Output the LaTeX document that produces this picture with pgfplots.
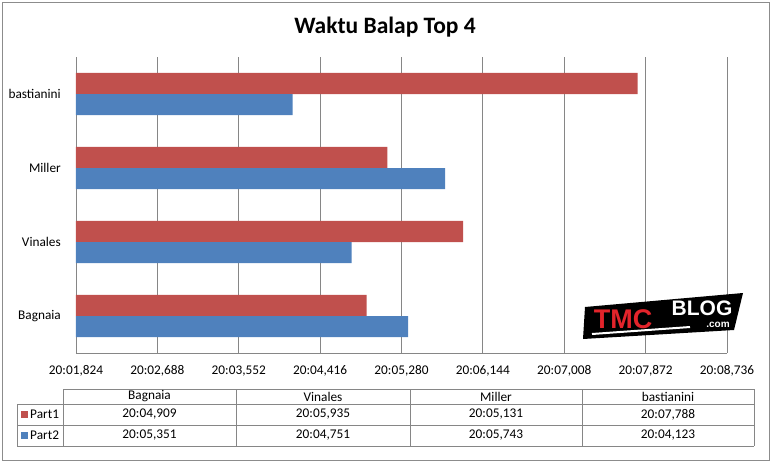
\documentclass[border=0pt]{standalone}
\usepackage{pgfplots}
\pgfplotsset{compat=1.18}
\usepackage{fontspec}
\setmainfont{Carlito}
\newfontfamily\logofont{Liberation Sans}
\definecolor{redbar}{HTML}{C0504D}
\definecolor{bluebar}{HTML}{4F81BD}
\definecolor{gridgray}{HTML}{868686}
\definecolor{framegray}{HTML}{8C8C8C}
\definecolor{logored}{HTML}{E3242B}
\begin{document}
\begin{tikzpicture}[x=1pt,y=1pt]
\useasboundingbox (0,0) rectangle (771,-463);
\draw[framegray,line width=1pt] (2,-2) rectangle (769,-460);
\node[font=\fontsize{23.5}{26}\selectfont\bfseries] at (385,-27) {Waktu Balap Top 4};
\begin{axis}[
  at={(76pt,-353pt)}, anchor=south west,
  width=651pt, height=296pt, scale only axis,
  xbar, bar width=0.284,
  xmin=1.824, xmax=8.736,
  ymin=-0.5, ymax=3.5,
  xtick={1.824,2.688,3.552,4.416,5.280,6.144,7.008,7.872,8.736},
  xticklabels={{20:01,824},{20:02,688},{20:03,552},{20:04,416},{20:05,280},{20:06,144},{20:07,008},{20:07,872},{20:08,736}},
  ytick={0,1,2,3},
  yticklabels={Bagnaia,Vinales,Miller,bastianini},
  axis x line*=bottom, axis y line*=left,
  axis line style={gridgray, line width=0.8pt, -},
  xmajorgrids, grid style={gridgray, line width=0.8pt},
  major tick length=0pt,
  tick label style={font=\fontsize{13.3}{16}\selectfont, inner sep=0pt},
  xticklabel style={anchor=center, yshift=-18pt},
  yticklabel style={anchor=east, xshift=-15pt},
  /pgf/number format/assume math mode=true,
  clip=true,
]
\addplot[draw=none, fill=redbar, bar shift=0.142] coordinates {(4.909,0) (5.935,1) (5.131,2) (7.788,3)};
\addplot[draw=none, fill=bluebar, bar shift=-0.142] coordinates {(5.351,0) (4.751,1) (5.743,2) (4.123,3)};
\end{axis}
% logo
\fill[black] (585,-307) -- (743,-293) -- (734,-330) -- (583,-339) -- cycle;
\draw[white, line width=2pt] (592,-334) -- (690,-327);
\node[inner sep=0pt, text=logored] at (623,-319) {\logofont\fontsize{27}{27}\selectfont\bfseries TMC};
\node[inner sep=0pt, text=white] at (702,-308) {\logofont\fontsize{21}{21}\selectfont\bfseries BLOG};
\node[inner sep=0pt, text=white] at (718,-325) {\logofont\fontsize{10}{10}\selectfont\bfseries .com};
% data table
\begin{scope}[draw=gridgray, line width=0.8pt]
\draw (63,-389) -- (754,-389);
\draw (17,-404) -- (754,-404);
\draw (17,-425) -- (754,-425);
\draw (17,-446) -- (754,-446);
\draw (17,-404) -- (17,-446);
\foreach \xx in {63,236,410,582,754} { \draw (\xx,-389) -- (\xx,-446); }
\end{scope}
\fill[redbar] (21,-411) rectangle (28,-418);
\fill[bluebar] (21,-432) rectangle (28,-439);
\begin{scope}[every node/.style={font=\fontsize{13.3}{16}\selectfont, inner sep=0pt}]
\node[anchor=west] at (30,-414.5) {Part1};
\node[anchor=west] at (30,-435.5) {Part2};
\node at (149.5,-396.5) {Bagnaia};
\node at (323,-396.5) {Vinales};
\node at (496,-396.5) {Miller};
\node at (668,-396.5) {bastianini};
\node at (149.5,-414.5) {20:04,909};
\node at (323,-414.5) {20:05,935};
\node at (496,-414.5) {20:05,131};
\node at (668,-414.5) {20:07,788};
\node at (149.5,-435.5) {20:05,351};
\node at (323,-435.5) {20:04,751};
\node at (496,-435.5) {20:05,743};
\node at (668,-435.5) {20:04,123};
\end{scope}
\end{tikzpicture}
\end{document}
